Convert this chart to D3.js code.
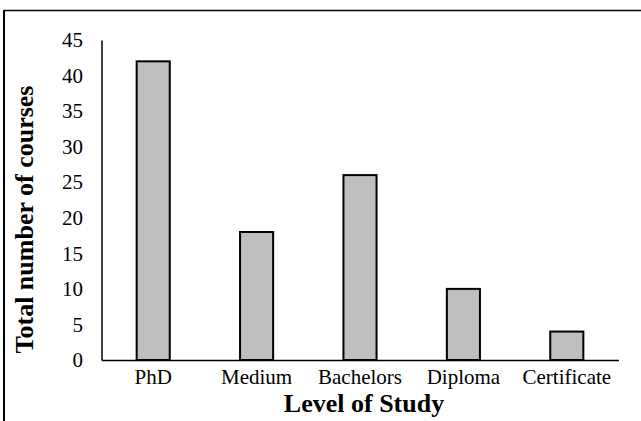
<!DOCTYPE html>
<html>
<head>
<meta charset="utf-8">
<script src="https://cdn.jsdelivr.net/npm/d3@7"></script>
<style>
  html, body { margin: 0; padding: 0; background: #fff; }
  svg { display: block; }
</style>
</head>
<body>
<svg id="chart" width="641" height="421"></svg>
<script>
// Number of courses offered at each level of study
const levels = ["PhD", "Medium", "Bachelors", "Diploma", "Certificate"];
const courses = [42, 18, 26, 10, 4];
const yTicks = [0, 5, 10, 15, 20, 25, 30, 35, 40, 45];

const svg = d3.select("#chart");
const font = "'Liberation Serif', 'Times New Roman', serif";

// Outer frame (top and left edges)
svg.append("line").attr("x1", 4).attr("x2", 641).attr("y1", 10.5).attr("y2", 10.5)
  .attr("stroke", "#000").attr("stroke-width", 1.5);
svg.append("line").attr("x1", 4).attr("x2", 4).attr("y1", 10).attr("y2", 421)
  .attr("stroke", "#000").attr("stroke-width", 2);

const plotLeft = 101.5, plotRight = 618.5, plotTop = 40, plotBottom = 360;

const x = d3.scaleBand().domain(levels).range([plotLeft, plotRight]).paddingInner(0.68).paddingOuter(0.34);
const y = d3.scaleLinear().domain([0, 45]).range([plotBottom, plotTop]);

// Bars
svg.append("g").selectAll("rect").data(levels).join("rect")
  .attr("x", d => x(d))
  .attr("y", (d, i) => y(courses[i]))
  .attr("width", x.bandwidth())
  .attr("height", (d, i) => y(0) - y(courses[i]))
  .attr("fill", "#bfbfbf")
  .attr("stroke", "#000")
  .attr("stroke-width", 2);

// Y axis
const yAxis = svg.append("g").attr("transform", `translate(${plotLeft},0)`)
  .call(d3.axisLeft(y).tickValues(yTicks).tickSize(0).tickPadding(18.5));
yAxis.select(".domain").attr("stroke", "#000").attr("stroke-width", 1.5);
yAxis.selectAll("text").attr("font-family", font).attr("font-size", 21).attr("fill", "#000");

// X axis
const xAxis = svg.append("g").attr("transform", `translate(0,${plotBottom})`)
  .call(d3.axisBottom(x).tickSize(0).tickPadding(9));
xAxis.select(".domain").attr("stroke", "#000").attr("stroke-width", 1.5);
xAxis.selectAll("text").attr("font-family", font).attr("font-size", 21).attr("fill", "#000");

// Axis titles
svg.append("text")
  .attr("x", (plotLeft + plotRight) / 2 + 4).attr("y", 412)
  .attr("text-anchor", "middle")
  .attr("font-family", font).attr("font-size", 26).attr("font-weight", "bold")
  .text("Level of Study");

svg.append("text")
  .attr("transform", "translate(33,219.5) rotate(-90)")
  .attr("text-anchor", "middle")
  .attr("font-family", font).attr("font-size", 26).attr("font-weight", "bold")
  .text("Total number of courses");
</script>
</body>
</html>
